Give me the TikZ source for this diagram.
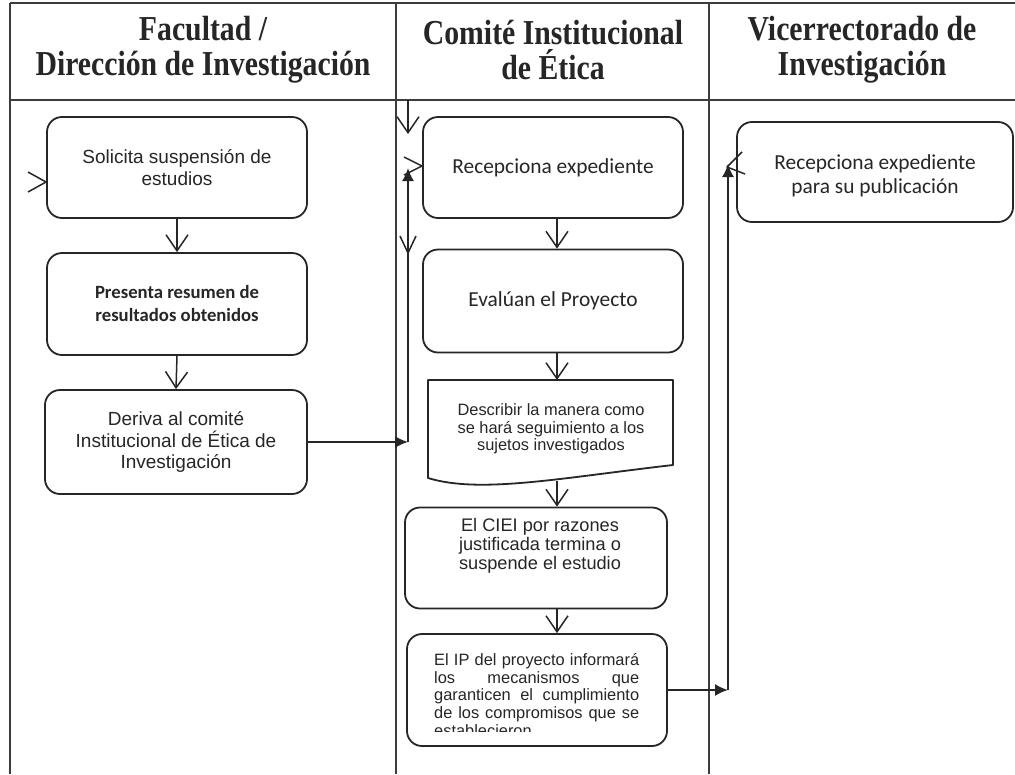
\documentclass[tikz,border=0pt]{standalone}
\usepackage{fontspec}
\setmainfont{Liberation Sans}
\newfontfamily\calib{Carlito}
\newfontfamily\headfont[FakeStretch=0.85]{Liberation Serif}
\usetikzlibrary{arrows.meta}
\definecolor{ink}{HTML}{262626}
\begin{document}
\begin{tikzpicture}[x=1pt,y=-1pt,line join=round,
  lane/.style={draw=ink!90,line width=1.3pt},
  head/.style={align=center,inner sep=0pt,text=ink,font=\headfont\bfseries\fontsize{35}{35}\selectfont},
  box/.style={draw=ink,line width=1.8pt,rounded corners=15pt,inner sep=0pt,align=center,text=ink},
  arialL/.style={font=\fontsize{19}{21.5}\selectfont},
  arialS/.style={font=\fontsize{16.4}{17.5}\selectfont},
  arialJ/.style={font=\fontsize{16.4}{17.8}\selectfont},
  arialM/.style={font=\fontsize{18.2}{18.8}\selectfont},
  calL/.style={font=\calib\fontsize{21.4}{24}\selectfont},
  calB/.style={font=\calib\bfseries\fontsize{18.7}{23}\selectfont},
  flow/.style={draw=ink,line width=1.5pt,-{Straight Barb[length=16pt,width=22pt,line width=1.5pt]}},
  chev/.style={draw=ink,line width=1.5pt},
  solid arrow/.style={draw=ink,line width=1.8pt,-{Latex[length=13pt,width=12pt]}},
  docline/.style={draw=ink,line width=1.8pt}
]
\useasboundingbox (0,0) rectangle (1015,774);
\fill[white] (0,0) rectangle (1015,774);

% swimlane frame
\draw[lane] (10,3) -- (1015,3);
\draw[lane] (10,100) -- (1015,100);
\draw[lane] (10,3) -- (10,774);
\draw[lane] (396,3) -- (396,774);
\draw[lane] (709,3) -- (709,774);

% headers
\node[head] (h1) at (203,50) {Facultad /\\Dirección de Investigación};
\node[head] (h2) at (553,50) {Comité Institucional\\de Ética};
\node[head] (h3) at (862,50) {Vicerrectorado de\\Investigación};

% left lane
\node[box,arialL,minimum width=260pt,minimum height=101pt] (s1) at (177,167.5) {Solicita suspensión de\\estudios};
\node[box,calB,minimum width=260pt,minimum height=102pt] (s2) at (177,304) {Presenta resumen de\\resultados obtenidos};
\node[box,arialL,minimum width=262pt,minimum height=104pt] (s3) at (176,442) {Deriva al comité\\Institucional de Ética de\\Investigación};

\coordinate (in1) at (46,182);
\draw[chev] ([shift={(-18,-10)}]in1) -- (in1) -- ([shift={(-18,10)}]in1);
\draw[flow] (s1.south) -- (s2.north);
\draw[flow] (s2.south) -- (s3.north);

% middle lane
\node[box,calL,minimum width=260pt,minimum height=101pt] (c1) at (553,167.5) {\raisebox{-3pt}{Recepciona expediente}};
\node[box,calL,minimum width=260pt,minimum height=103pt] (c2) at (553,301) {\raisebox{-3pt}{Evalúan el Proyecto}};
\node[inner sep=0pt,align=center,arialS,text=ink] (c3) at (551,429) {Describir la manera como\\se hará seguimiento a los\\sujetos investigados};
\coordinate (d1) at (428,380);
\coordinate (d2) at (673,380);
\coordinate (d3) at (673,465);
\coordinate (d4) at (428,478);
\draw[docline] (d1) -- (d2) -- (d3) .. controls (560,478) and (480,494) .. (d4) -- cycle;
\node[box,minimum width=262pt,minimum height=101pt] (c4) at (536,558) {};
\node[inner sep=0pt,align=center,arialM,text=ink] (c4t) at (540,546) {El CIEI por razones\\justificada termina o\\suspende el estudio};
\node[box,minimum width=260pt,minimum height=112pt] (c5) at (537,690) {};
\begin{scope}
\clip (412,640) rectangle (662,731);
\node[anchor=north west,inner sep=0pt,text width=205pt,align=justify,arialJ,text=ink] (c5t) at (434,653)
 {El IP del proyecto informará\linebreak los mecanismos que\linebreak garanticen el cumplimiento\linebreak de los compromisos que se\linebreak establecieron};
\end{scope}

\coordinate (ax) at (557,0);
\draw[flow] (c1.south -| ax) -- (c2.north -| ax);
\draw[flow] (c2.south -| ax) -- (d1 -| ax);
\coordinate (wb) at (557,481);
\draw[flow] (wb) -- (c4.north -| ax);
\draw[flow] (c4.south -| ax) -- (c5.north -| ax);

% middle lane entry connectors
\coordinate (m0) at (408,100);
\coordinate (m1) at (408,134);
\draw[flow] (m0) -- (m1);
\coordinate (mj) at (408,442);
\coordinate (mt) at (408,168);
\draw[solid arrow] (s3.east) -- (mj);
\draw[solid arrow] (mj) -- (mt);
\draw[chev] (404,157) -- (422,166) -- (404,175);
\draw[chev] (400,236) -- (408,253) -- (416,236);

% right lane
\node[box,minimum width=276pt,minimum height=100pt] (r1) at (875,172) {};
\node[inner sep=0pt,align=center,calL,text=ink] (r1t) at (875,176) {Recepciona expediente\\para su publicación};
\coordinate (rj) at (728,690);
\coordinate (rt) at (728,164);
\draw[solid arrow] (c5.east) -- (rj);
\draw[solid arrow] (rj) -- (rt);
\draw[chev] (742,152) -- (727,167) -- (745,174);
\end{tikzpicture}
\end{document}
